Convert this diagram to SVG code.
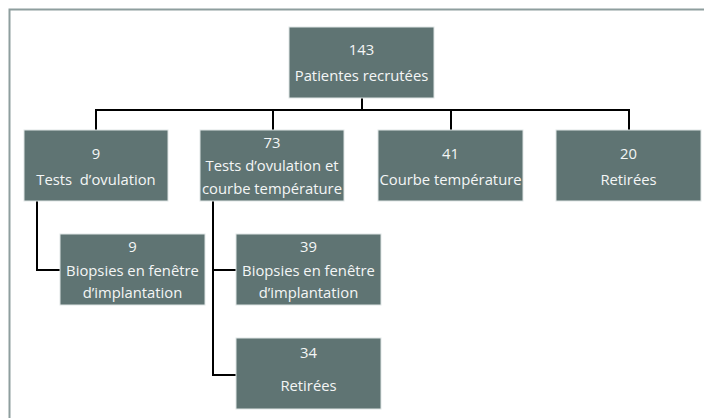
<svg xmlns="http://www.w3.org/2000/svg" width="704" height="418" viewBox="0 0 704 418">
<style>
.box{fill:#5f7473;stroke:#dfe5e5;stroke-width:1}
.t{font-family:"Open Sans","Liberation Sans",sans-serif;font-size:14.8px;fill:#f4f6f6;text-anchor:middle}
.c{fill:none;stroke:#000;stroke-width:2}
</style>
<rect x="0" y="0" width="704" height="418" fill="#ffffff"/>
<rect x="9.5" y="9.5" width="700" height="420" fill="none" stroke="#8e9e9e" stroke-width="2"/>
<g id="connectors">
<path class="c" d="M362 98 V110 M96 130 V110 H629 V130 M273 110 V130 M451 110 V130"/>
<path class="c" d="M37 201 V270 H60"/>
<path class="c" d="M213 201 V375 H236 M213 270 H236"/>
</g>
<g id="n143"><rect class="box" x="289" y="27" width="145" height="71"/>
<text class="t" x="361.5" y="55">143</text><text class="t" x="361.5" y="81">Patientes recrutées</text></g>
<g id="n9"><rect class="box" x="24" y="130" width="144" height="71"/>
<text class="t" x="96" y="159">9</text><text class="t" x="96" y="185" xml:space="preserve">Tests  d’ovulation</text></g>
<g id="n73"><rect class="box" x="200" y="130" width="144" height="71"/>
<text class="t" x="272" y="148">73</text><text class="t" x="272" y="171">Tests d’ovulation et</text><text class="t" x="272" y="194">courbe température</text></g>
<g id="n41"><rect class="box" x="378" y="130" width="145" height="71"/>
<text class="t" x="450.5" y="159">41</text><text class="t" x="450.5" y="185">Courbe température</text></g>
<g id="n20"><rect class="box" x="556" y="130" width="145" height="71"/>
<text class="t" x="628.5" y="159">20</text><text class="t" x="628.5" y="185">Retirées</text></g>
<g id="b9"><rect class="box" x="60" y="234" width="145" height="71"/>
<text class="t" x="132.5" y="252">9</text><text class="t" x="132.5" y="276">Biopsies en fenêtre</text><text class="t" x="132.5" y="298">d’implantation</text></g>
<g id="b39"><rect class="box" x="236" y="234" width="145" height="71"/>
<text class="t" x="308.5" y="252">39</text><text class="t" x="308.5" y="276">Biopsies en fenêtre</text><text class="t" x="308.5" y="298">d’implantation</text></g>
<g id="r34"><rect class="box" x="236" y="338" width="145" height="71"/>
<text class="t" x="308.5" y="358">34</text><text class="t" x="308.5" y="391">Retirées</text></g>
</svg>
